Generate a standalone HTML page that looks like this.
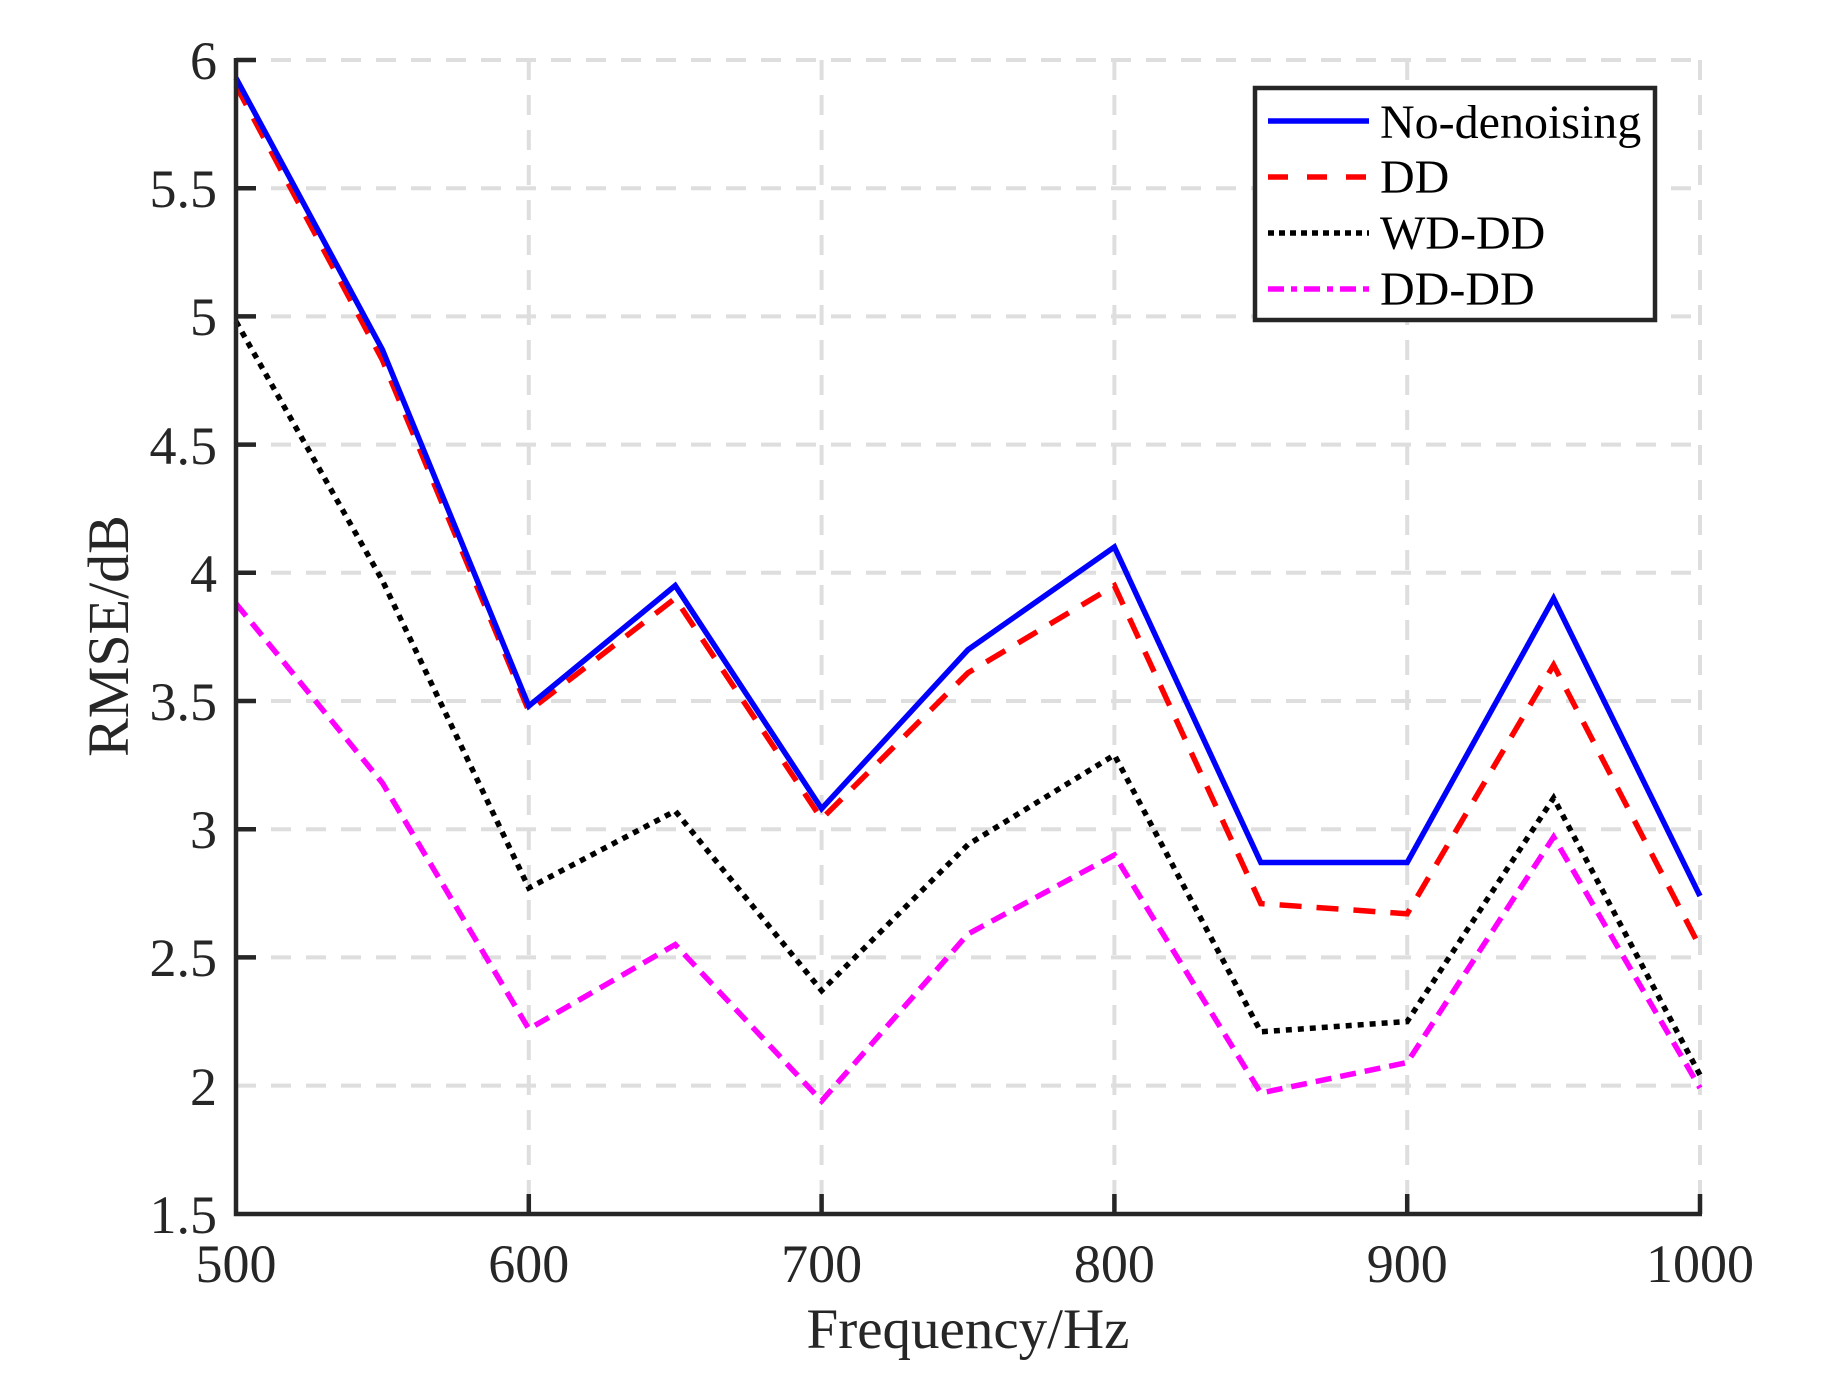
<!DOCTYPE html>
<html><head><meta charset="utf-8"><style>html,body{margin:0;padding:0;background:#fff}svg{display:block}</style></head>
<body>
<svg width="1826" height="1397" viewBox="0 0 1826 1397" xmlns="http://www.w3.org/2000/svg" font-family="Liberation Serif, serif" fill="#262626">
<g stroke="#dedede" stroke-width="4" stroke-dasharray="20,15" fill="none">
<line x1="528.8" y1="60" x2="528.8" y2="1214"/><line x1="821.6" y1="60" x2="821.6" y2="1214"/><line x1="1114.4" y1="60" x2="1114.4" y2="1214"/><line x1="1407.2" y1="60" x2="1407.2" y2="1214"/><line x1="1700" y1="60" x2="1700" y2="1214"/>
<line x1="236" y1="60" x2="1700" y2="60"/><line x1="236" y1="188.2" x2="1700" y2="188.2"/><line x1="236" y1="316.4" x2="1700" y2="316.4"/><line x1="236" y1="444.6" x2="1700" y2="444.6"/><line x1="236" y1="572.8" x2="1700" y2="572.8"/><line x1="236" y1="701" x2="1700" y2="701"/><line x1="236" y1="829.2" x2="1700" y2="829.2"/><line x1="236" y1="957.4" x2="1700" y2="957.4"/><line x1="236" y1="1085.6" x2="1700" y2="1085.6"/>
</g>
<g fill="none" stroke-width="5.5" stroke-linejoin="miter">
<polyline stroke="#ff00ff" stroke-dasharray="16,9" points="236,603.6 382.4,783 528.8,1029 675.2,944.6 821.6,1101 968,934 1114.4,855 1260.8,1093 1407.2,1062.5 1553.6,837 1700,1088"/>
<polyline stroke="#000" stroke-dasharray="6,6" points="236,321.5 382.4,580.5 528.8,888 675.2,811 821.6,990.7 968,844.6 1114.4,755 1260.8,1031.8 1407.2,1021.5 1553.6,798 1700,1075"/>
<polyline stroke="#ff0000" stroke-dasharray="22,15" points="236,85.6 382.4,360 528.8,711 675.2,598.4 821.6,819 968,672.8 1114.4,585.6 1260.8,903.6 1407.2,913.8 1553.6,665 1700,947"/>
<polyline stroke="#0000ff" points="236,78 382.4,349.7 528.8,706 675.2,585.6 821.6,808.7 968,649.7 1114.4,547 1260.8,862.5 1407.2,862.5 1553.6,598.4 1700,896"/>
</g>
<g fill="none" stroke="#262626" stroke-width="4.5">
<polyline points="236,58 236,1214 1702,1214"/>
<path d="M236 60h20M236 188.2h20M236 316.4h20M236 444.6h20M236 572.8h20M236 701h20M236 829.2h20M236 957.4h20M528.8 1214v-20M821.6 1214v-20M1114.4 1214v-20M1407.2 1214v-20M1700 1214v-20"/>
</g>
<g font-size="54" text-anchor="end">
<text x="217" y="79">6</text><text x="217" y="207">5.5</text><text x="217" y="335">5</text><text x="217" y="464">4.5</text><text x="217" y="592">4</text><text x="217" y="720">3.5</text><text x="217" y="848">3</text><text x="217" y="976">2.5</text><text x="217" y="1105">2</text><text x="217" y="1233">1.5</text>
</g>
<g font-size="54" text-anchor="middle">
<text x="236" y="1282">500</text><text x="528.8" y="1282">600</text><text x="821.6" y="1282">700</text><text x="1114.4" y="1282">800</text><text x="1407.2" y="1282">900</text><text x="1700" y="1282">1000</text>
</g>
<text x="968" y="1348" font-size="57" text-anchor="middle">Frequency/Hz</text>
<text transform="translate(128,636) rotate(-90)" font-size="58" text-anchor="middle">RMSE/dB</text>
<rect x="1255" y="88" width="400" height="232" fill="#fff" stroke="#262626" stroke-width="4.5"/>
<g fill="none" stroke-width="5.5">
<line x1="1268" y1="121" x2="1369" y2="121" stroke="#0000ff"/>
<line x1="1268" y1="177" x2="1369" y2="177" stroke="#ff0000" stroke-dasharray="20,19"/>
<line x1="1268" y1="233" x2="1369" y2="233" stroke="#000" stroke-dasharray="6,5"/>
<line x1="1268" y1="289" x2="1369" y2="289" stroke="#ff00ff" stroke-dasharray="16,7,6,7"/>
</g>
<g font-size="48" fill="#000">
<text x="1380" y="138">No-denoising</text><text x="1380" y="193">DD</text><text x="1380" y="249">WD-DD</text><text x="1380" y="305">DD-DD</text>
</g>
</svg>
</body></html>
